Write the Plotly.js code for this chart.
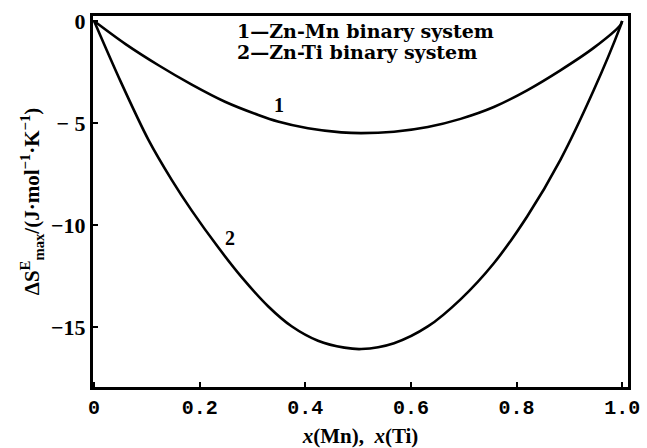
<!DOCTYPE html>
<html><head><meta charset="utf-8">
<script src="https://cdn.plot.ly/plotly-3.0.1.min.js"></script>
<style>html,body{margin:0;padding:0;background:#fff}#c{width:647px;height:448px}</style>
</head><body><div id="c"></div>
<script>
// Curve 1: Zn-Mn binary system
const x1 = [0, 0.059, 0.122, 0.185, 0.248, 0.311, 0.348, 0.405, 0.468, 0.506, 0.568, 0.632, 0.694, 0.757, 0.82, 0.883, 0.946, 0.996, 1.0];
const y1 = [0, -1.12, -2.17, -3.12, -3.96, -4.61, -4.93, -5.26, -5.46, -5.5, -5.43, -5.2, -4.8, -4.22, -3.4, -2.42, -1.32, -0.22, 0];
// Curve 2: Zn-Ti binary system
const x2 = [0, 0.05, 0.103, 0.147, 0.185, 0.235, 0.279, 0.33, 0.374, 0.424, 0.474, 0.506, 0.568, 0.632, 0.694, 0.757, 0.82, 0.883, 0.946, 0.996, 1.0];
const y2 = [0, -2.95, -5.83, -7.79, -9.3, -11.1, -12.55, -14.0, -14.97, -15.68, -16.02, -16.09, -15.8, -14.98, -13.65, -11.88, -9.59, -6.81, -3.4, -0.3, 0];
const yTickVals = [0, -5, -10, -15];
const yTickText = ["0", "− 5", "−10", "−15"];
const xTickVals = [0, 0.2, 0.4, 0.6, 0.8, 1.0];
const xTickText = ["0", "0.2", "0.4", "0.6", "0.8", "1.0"];
const legendLines = ["1—Zn-Mn binary system", "2—Zn-Ti binary system"];
const curveLabels = ["1", "2"];

const lineStyle = {color: "#000", width: 2.6, shape: "spline", smoothing: 0.9};
const data = [
  {x: x1, y: y1, mode: "lines", line: lineStyle, hoverinfo: "skip"},
  {x: x2, y: y2, mode: "lines", line: lineStyle, hoverinfo: "skip"}
];
const serif = "Liberation Serif, DejaVu Serif, serif";
const wideSerif = "DejaVu Serif, Liberation Serif, serif";
const layout = {
  width: 647, height: 448,
  margin: {l: 93, r: 19, t: 16, b: 61},
  showlegend: false,
  paper_bgcolor: "#fff", plot_bgcolor: "#fff",
  xaxis: {
    range: [-0.002, 1.011], tickvals: xTickVals, ticktext: xTickText,
    ticks: "inside", ticklen: 5, tickwidth: 2, tickcolor: "#000",
    showline: true, linewidth: 3, linecolor: "#000", mirror: true,
    showgrid: false, zeroline: false,
    tickfont: {family: "Liberation Mono, DejaVu Sans Mono, monospace", size: 20, color: "#000", weight: "bold"},
    title: {text: "<i>x</i>(Mn),  <i>x</i>(Ti)", font: {family: serif, size: 21, color: "#000", weight: "bold"}, standoff: 10}
  },
  yaxis: {
    range: [-17.95, 0.245], tickvals: yTickVals, ticktext: yTickText,
    ticks: "inside", ticklen: 5, tickwidth: 2, tickcolor: "#000",
    showline: true, linewidth: 3, linecolor: "#000", mirror: true,
    showgrid: false, zeroline: false,
    tickfont: {family: serif, size: 22, color: "#000", weight: "bold"},
    title: {text: "ΔS<sup>E</sup><sub>max</sub>/(J·mol<sup>−1</sup>·K<sup>−1</sup>)", font: {family: serif, size: 21, color: "#000", weight: "bold"}, standoff: 6}
  },
  annotations: [
    {x: 0.266, y: -0.5, xref: "x", yref: "y", text: legendLines[0], showarrow: false, xanchor: "left", yanchor: "middle", font: {family: wideSerif, size: 19, color: "#000", weight: "bold"}},
    {x: 0.266, y: -1.52, xref: "x", yref: "y", text: legendLines[1], showarrow: false, xanchor: "left", yanchor: "middle", font: {family: wideSerif, size: 19, color: "#000", weight: "bold"}},
    {x: 0.351, y: -4.12, xref: "x", yref: "y", text: curveLabels[0], showarrow: false, font: {family: serif, size: 20, color: "#000", weight: "bold"}},
    {x: 0.257, y: -10.64, xref: "x", yref: "y", text: curveLabels[1], showarrow: false, font: {family: serif, size: 20, color: "#000", weight: "bold"}}
  ]
};
Plotly.newPlot("c", data, layout, {staticPlot: true, displayModeBar: false});
</script></body></html>
